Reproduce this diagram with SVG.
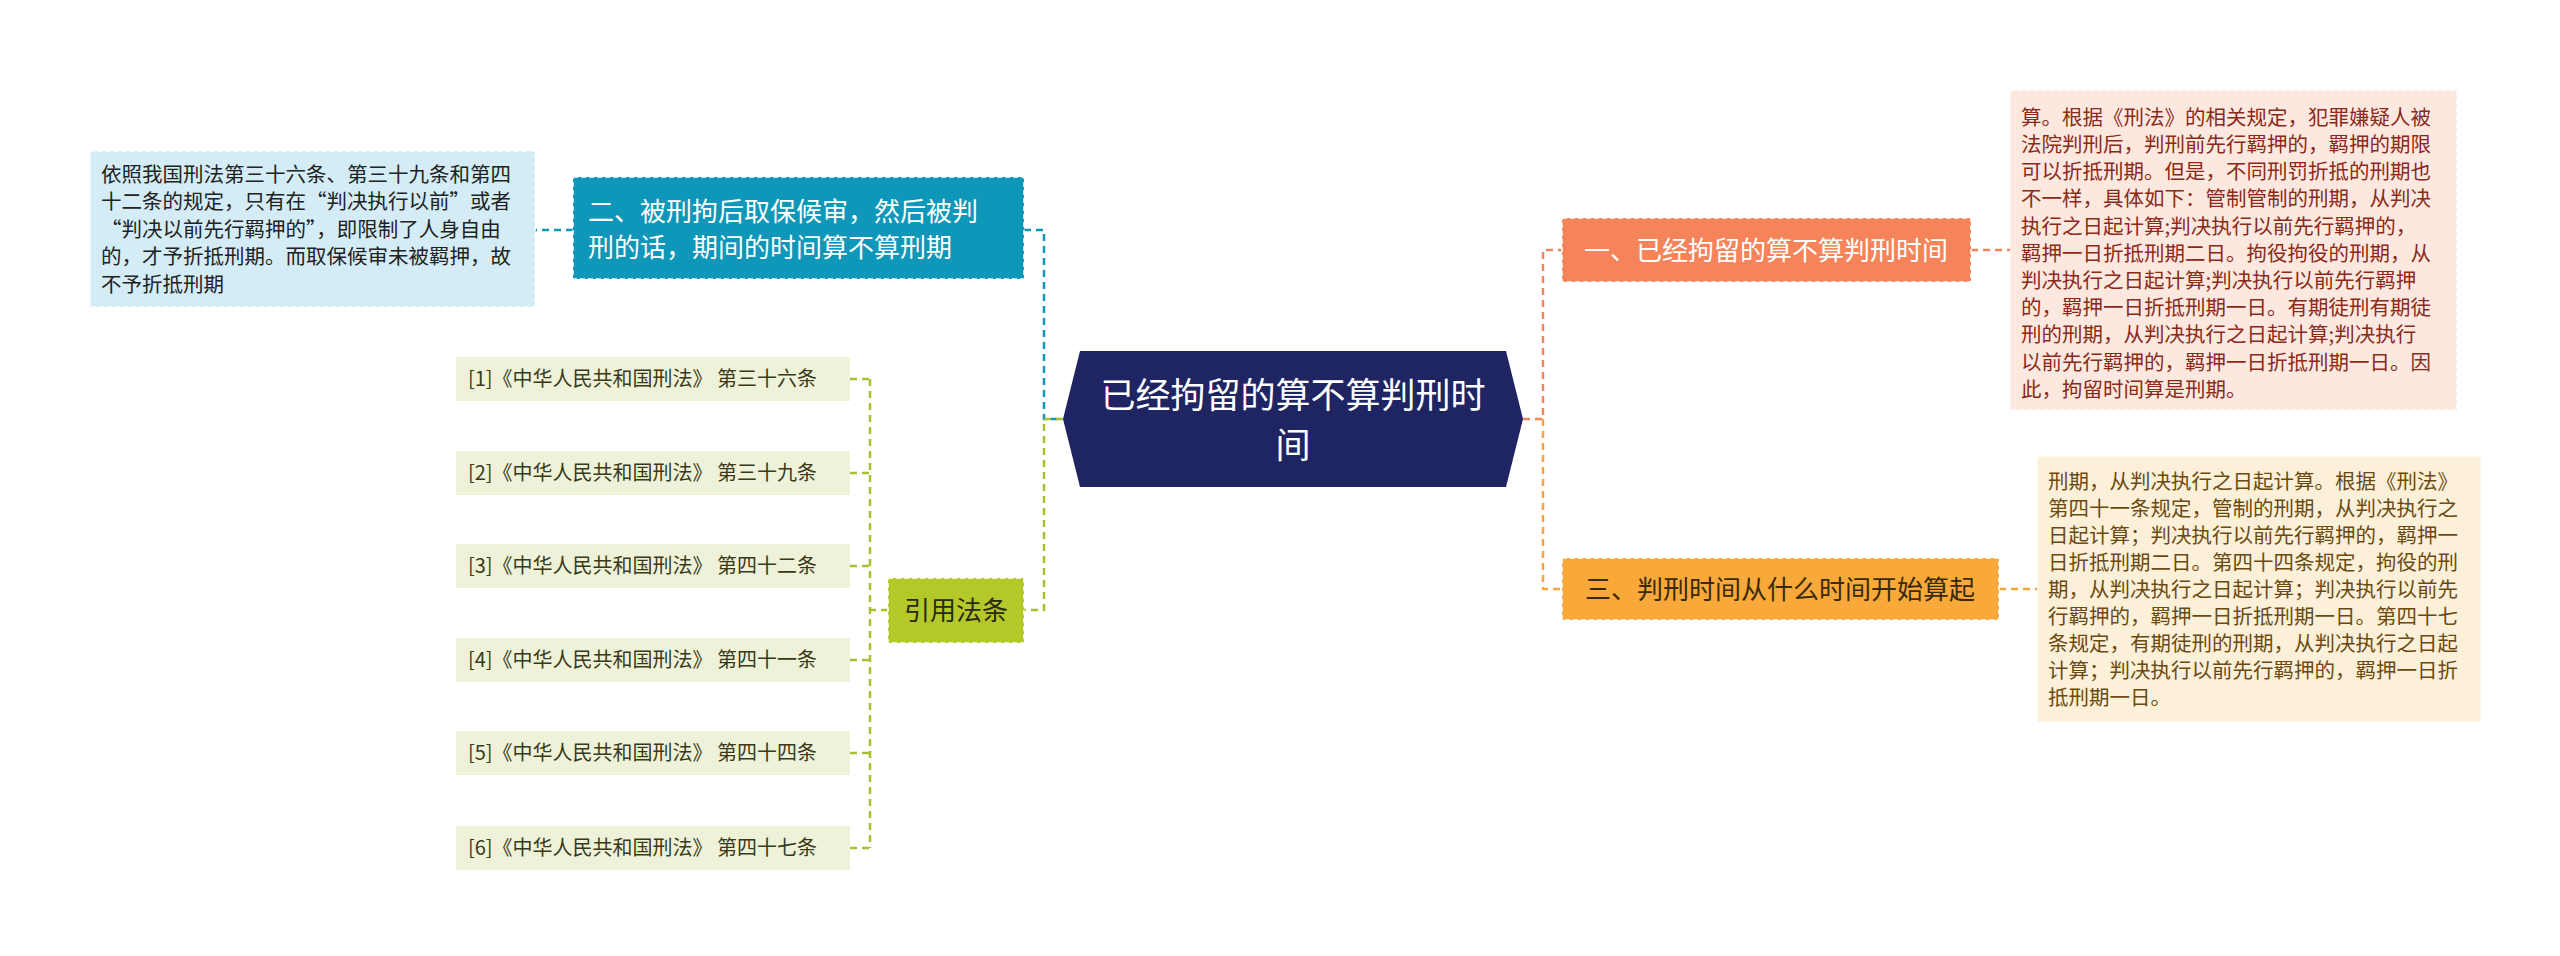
<svg xmlns="http://www.w3.org/2000/svg" width="2560" height="956" viewBox="0 0 2560 956">
<style>
text{font-family:"Noto Sans CJK SC","Liberation Sans",sans-serif}
.c{fill:none;stroke-width:2.5;stroke-dasharray:7,5}
.d{font-size:20.5px}
.cit{font-size:20px;fill:#3a3a1a}
.bd{stroke-width:1.5;stroke-dasharray:5,3}
</style>
<rect width="2560" height="956" fill="#fff"/>
<g id="connectors">
<path class="c" stroke="#0e97b8" d="M1024 230H1044V419H1063"/>
<path class="c" stroke="#a8c030" d="M1063 419H1044V610H1024"/>
<path class="c" stroke="#0e97b8" d="M573 230H535"/>
<path class="c" stroke="#a8c030" d="M888 610H870M870 379V848M850 379H870M850 473H870M850 566H870M850 660H870M850 753H870M850 848H870"/>
<path class="c" stroke="#f0845a" d="M1523 419H1543V250H1562"/>
<path class="c" stroke="#f5a63a" d="M1543 419V589H1562"/>
<path class="c" stroke="#f0845a" d="M1971 250H2010"/>
<path class="c" stroke="#f5a63a" d="M1999 589H2037"/>
</g>
<g id="center">
<polygon points="1063,419 1080,351 1506,351 1523,419 1506,487 1080,487" fill="#1f2562"/>
<text x="1293" y="408" font-size="35" fill="#fff" text-anchor="middle">已经拘留的算不算判刑时</text>
<text x="1293" y="458" font-size="35" fill="#fff" text-anchor="middle">间</text>
</g>
<g id="n1">
<rect x="1562" y="218" width="409" height="64" fill="#f5845a" stroke="#fff" class="bd"/>
<text x="1766" y="260" font-size="26" fill="#fff" text-anchor="middle">一、已经拘留的算不算判刑时间</text>
</g>
<g id="n1d">
<rect x="2010" y="90" width="447" height="320" fill="#fde8e0" stroke="#fff" class="bd"/>
<g class="d" fill="#8a2a18">
<text x="2021" y="125">算。根据《刑法》的相关规定，犯罪嫌疑人被</text>
<text x="2021" y="152">法院判刑后，判刑前先行羁押的，羁押的期限</text>
<text x="2021" y="179">可以折抵刑期。但是，不同刑罚折抵的刑期也</text>
<text x="2021" y="206">不一样，具体如下：管制管制的刑期，从判决</text>
<text x="2021" y="234">执行之日起计算;判决执行以前先行羁押的，</text>
<text x="2021" y="261">羁押一日折抵刑期二日。拘役拘役的刑期，从</text>
<text x="2021" y="288">判决执行之日起计算;判决执行以前先行羁押</text>
<text x="2021" y="315">的，羁押一日折抵刑期一日。有期徒刑有期徒</text>
<text x="2021" y="342">刑的刑期，从判决执行之日起计算;判决执行</text>
<text x="2021" y="370">以前先行羁押的，羁押一日折抵刑期一日。因</text>
<text x="2021" y="397">此，拘留时间算是刑期。</text>
</g>
</g>
<g id="n3">
<rect x="1562" y="558" width="437" height="62" fill="#f9a93a" stroke="#fff" class="bd"/>
<text x="1780" y="599" font-size="26" fill="#3a2a08" text-anchor="middle">三、判刑时间从什么时间开始算起</text>
</g>
<g id="n3d">
<rect x="2037" y="456" width="444" height="266" fill="#fdf0d8" stroke="#fff" class="bd"/>
<g class="d" fill="#6b4a12">
<text x="2048" y="489">刑期，从判决执行之日起计算。根据《刑法》</text>
<text x="2048" y="516">第四十一条规定，管制的刑期，从判决执行之</text>
<text x="2048" y="543">日起计算；判决执行以前先行羁押的，羁押一</text>
<text x="2048" y="570">日折抵刑期二日。第四十四条规定，拘役的刑</text>
<text x="2048" y="597">期，从判决执行之日起计算；判决执行以前先</text>
<text x="2048" y="624">行羁押的，羁押一日折抵刑期一日。第四十七</text>
<text x="2048" y="651">条规定，有期徒刑的刑期，从判决执行之日起</text>
<text x="2048" y="678">计算；判决执行以前先行羁押的，羁押一日折</text>
<text x="2048" y="705">抵刑期一日。</text>
</g>
</g>
<g id="n2">
<rect x="573" y="177" width="451" height="102" fill="#0e97b8" stroke="#fff" class="bd"/>
<text x="588" y="221" font-size="26" fill="#fff">二、被刑拘后取保候审，然后被判</text>
<text x="588" y="257" font-size="26" fill="#fff">刑的话，期间的时间算不算刑期</text>
</g>
<g id="n2d">
<rect x="90" y="151" width="445" height="156" fill="#d3ecf5" stroke="#fff" class="bd"/>
<g class="d" fill="#222">
<text x="101" y="182">依照我国刑法第三十六条、第三十九条和第四</text>
<text x="101" y="209">十二条的规定，只有在“判决执行以前”或者</text>
<text x="101" y="237">“判决以前先行羁押的”，即限制了人身自由</text>
<text x="101" y="264">的，才予折抵刑期。而取保候审未被羁押，故</text>
<text x="101" y="292">不予折抵刑期</text>
</g>
</g>
<g id="cite">
<rect x="888" y="578" width="136" height="65" fill="#b5c82a" stroke="#fff" class="bd"/>
<text x="956" y="620" font-size="26" fill="#2a2a10" text-anchor="middle">引用法条</text>
</g>
<g id="c1"><rect x="456" y="357" width="394" height="44" fill="#eef2d8"/><text x="468" y="386" class="cit">[1]《中华人民共和国刑法》 第三十六条</text></g>
<g id="c2"><rect x="456" y="451" width="394" height="44" fill="#eef2d8"/><text x="468" y="480" class="cit">[2]《中华人民共和国刑法》 第三十九条</text></g>
<g id="c3"><rect x="456" y="544" width="394" height="44" fill="#eef2d8"/><text x="468" y="573" class="cit">[3]《中华人民共和国刑法》 第四十二条</text></g>
<g id="c4"><rect x="456" y="638" width="394" height="44" fill="#eef2d8"/><text x="468" y="667" class="cit">[4]《中华人民共和国刑法》 第四十一条</text></g>
<g id="c5"><rect x="456" y="731" width="394" height="44" fill="#eef2d8"/><text x="468" y="760" class="cit">[5]《中华人民共和国刑法》 第四十四条</text></g>
<g id="c6"><rect x="456" y="826" width="394" height="44" fill="#eef2d8"/><text x="468" y="855" class="cit">[6]《中华人民共和国刑法》 第四十七条</text></g>
</svg>
